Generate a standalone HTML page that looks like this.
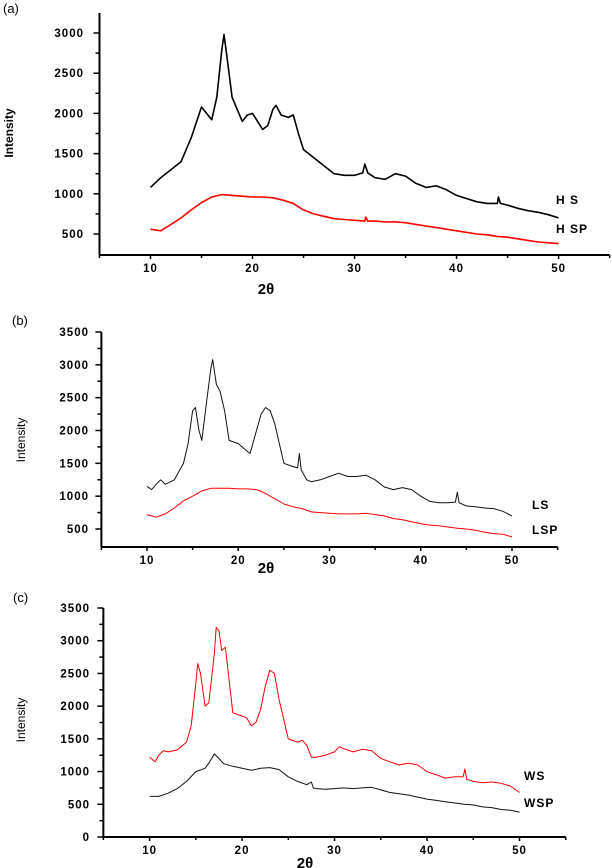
<!DOCTYPE html>
<html><head><meta charset="utf-8"><style>
body{margin:0;background:#fff;width:612px;height:868px;overflow:hidden}
svg{display:block}
text{font-family:"Liberation Sans",Arial,sans-serif}
.tk{font-size:11.5px;font-weight:bold;letter-spacing:1px}
</style></head><body>
<svg id="chart" width="612" height="868" viewBox="0 0 612 868"></svg>
<script>
const xTicks=[10,20,30,40,50];
const yTicksA=[500,1000,1500,2000,2500,3000];
const yTicksB=[500,1000,1500,2000,2500,3000,3500];
const yTicksC=[0,500,1000,1500,2000,2500,3000,3500];
const hsX=[10,11,12,13,14,15,15.5,16,16.5,17,17.2,17.5,18,18.5,19,19.5,20,20.5,21,21.5,22,22.3,22.8,23.5,24,24.5,25,26,27,28,29,30,30.8,31,31.3,32,33,34,35,36,37,38,39,40,41,42,43,44,44.1,44.3,45,46,47,48,49,50];
const hsY=[1080,1200,1300,1400,1700,2080,2000,1920,2200,2800,2980,2700,2200,2050,1900,1980,2000,1900,1800,1850,2050,2100,1980,1950,1980,1750,1550,1450,1350,1250,1230,1230,1260,1370,1260,1200,1180,1250,1220,1130,1080,1100,1050,980,940,900,880,880,960,880,860,820,790,770,740,700];
const hspX=[10,11,12,13,14,15,16,17,18,19,20,21,22,23,24,25,26,27,28,29,30,31,31.1,31.3,32,33,34,35,36,37,38,39,40,41,42,43,44,45,46,47,48,49,50];
const hspY=[560,540,620,700,800,890,960,990,980,970,960,960,950,920,880,800,750,720,690,680,670,660,710,660,660,650,650,640,620,600,580,560,540,520,500,490,470,460,440,420,400,390,380];
const lsX=[10,10.5,11,11.5,12,13,14,14.5,15,15.3,15.7,16,16.5,17,17.2,17.6,18,18.5,19,20,21,21.3,22,22.5,23,23.5,24,24.5,25,26,26.5,26.7,26.9,27.5,28,29,30,31,32,33,34,35,36,37,38,39,40,41,42,43,43.8,44,44.2,45,46,47,48,49,50];
const lsY=[1150,1100,1180,1250,1180,1250,1500,1800,2300,2350,2000,1850,2400,2950,3080,2700,2600,2300,1850,1800,1680,1650,2000,2250,2350,2300,2100,1800,1500,1450,1430,1650,1400,1250,1220,1250,1300,1350,1300,1300,1320,1250,1140,1100,1130,1100,1000,920,900,900,910,1060,900,850,840,820,810,770,700];
const lspX=[10,11,12,13,14,15,16,17,18,19,20,21,22,23,24,25,26,27,28,29,30,31,32,33,34,35,36,37,38,39,40,41,42,43,44,45,46,47,48,49,50];
const lspY=[720,680,730,820,930,1000,1080,1120,1120,1120,1110,1110,1100,1040,960,880,840,810,760,750,740,730,730,730,740,720,700,660,640,610,580,560,550,530,510,500,480,450,430,420,380];
const wsX=[10,10.6,11,11.5,12,13,14,14.5,15,15.2,15.5,16,16.4,17,17.2,17.5,17.8,18.2,18.6,19,20,20.5,21,21.5,22,22.5,23,23.5,24,24.5,25,26,26.5,27,27.5,28,29,30,30.5,31,32,33,34,35,36,37,38,39,40,41,42,43,43.9,44.1,44.3,45,46,47,48,49,50];
const wsY=[1220,1150,1250,1320,1300,1330,1450,1700,2350,2650,2500,2000,2050,2800,3200,3150,2850,2900,2400,1900,1850,1820,1700,1750,1950,2300,2550,2500,2100,1800,1500,1450,1480,1400,1220,1220,1250,1300,1380,1350,1300,1340,1320,1200,1150,1100,1130,1100,1000,950,900,920,920,1040,880,850,830,840,820,780,680];
const wspX=[10,11,12,13,14,15,16,16.5,17,17.5,18,19,20,21,22,23,24,25,26,27,27.5,27.7,28,29,30,31,32,33,34,35,36,37,38,39,40,41,42,43,44,45,46,47,48,49,50];
const wspY=[620,620,670,740,850,1000,1050,1150,1270,1200,1120,1080,1050,1020,1050,1060,1030,920,850,800,840,750,740,730,740,750,740,750,760,720,680,660,640,610,580,560,540,520,500,490,460,450,420,410,380];

const svg=document.getElementById('chart');
const NS='http://www.w3.org/2000/svg';
function mk(tag,attrs,parent){const e=document.createElementNS(NS,tag);for(const k in attrs)e.setAttribute(k,attrs[k]);(parent||svg).appendChild(e);return e;}

function panel(p){
  const g=mk('g',{});
  
  
  const sx=v=>p.x10+(v-10)*(p.x50-p.x10)/40;
  const sy=v=>p.yA+(v-p.vA)*(p.yB-p.yA)/(p.vB-p.vA);
  const xl=sx(5), xr=sx(55);
  const ya=mk('line',{x1:xl,y1:p.yTop,x2:xl,y2:p.yAxis,stroke:'#000','stroke-width':2},g);
  
  const xa=mk('line',{x1:xl,y1:p.yAxis,x2:xr,y2:p.yAxis,stroke:'#000','stroke-width':2},g);
  
  for(let v=5;v<=55;v+=5){const x=sx(v);mk('line',{x1:x,y1:p.yAxis,x2:x,y2:p.yAxis+(v%10===0?4:3),stroke:'#000','stroke-width':1.5},g);}
  xTicks.forEach(v=>{const t=mk('text',{x:sx(v),y:p.yAxis+17,'text-anchor':'middle',class:'tk'},g);t.textContent=v;
    });
  const step=p.yt[1]-p.yt[0];
  for(let v=p.yt[0];v<=p.yt[p.yt.length-1]+1;v+=step/2){const y=sy(v);if(y<p.yTop-1||y>p.yAxis)continue;
    mk('line',{x1:xl-(v%step===0?6:4),y1:y,x2:xl,y2:y,stroke:'#000','stroke-width':1.5},g);}
  p.yt.forEach(v=>{const t=mk('text',{x:p.lblR,y:sy(v)+4,'text-anchor':'end',class:'tk'},g);t.textContent=v;
    });
  p.series.forEach(s=>{
    const pts=s.x.map((v,i)=>sx(v).toFixed(1)+','+sy(s.y[i]).toFixed(1)).join(' ');
    const l=mk('polyline',{points:pts,fill:'none',stroke:s.c,'stroke-width':s.w,'stroke-linejoin':'round'},g);
    
    
    const t=mk('text',{x:p.legX,y:s.ly,'font-size':'12px','font-weight':'bold','letter-spacing':'1px'},g);t.textContent=s.label;
    
  });
  const tt=mk('text',{x:p.tX,y:p.tY,'text-anchor':'middle','font-size':'15px','font-weight':'bold','font-family':p.serif?'Liberation Serif':'Liberation Sans'},g);
  tt.textContent='2θ';
  const it=mk('text',{x:0,y:0,transform:`translate(${p.iX},${p.iY}) rotate(-90)`,'text-anchor':'middle','font-size':'12px','font-weight':p.ib?'bold':'normal'},g);
  it.textContent='Intensity';
  const pl=mk('text',{x:p.pX,y:p.pY,'font-size':'13px','font-family':'DejaVu Sans'},g);
  pl.textContent=p.plabel;
}

panel({name:'panel-a',x10:150.5,x50:558.6,yA:234,vA:500,yB:33,vB:3000,yTop:13,yAxis:255,yt:yTicksA,lblR:84,
  legX:556,tX:266,tY:294,iX:13,iY:133,ib:true,pX:3,pY:13,plabel:'(a)',
  series:[{x:hsX,y:hsY,c:'#000',w:1.6,label:'H S',ly:204},{x:hspX,y:hspY,c:'#f00',w:1.6,label:'H SP',ly:233}]});
panel({name:'panel-b',x10:147,x50:512,yA:529,vA:500,yB:332,vB:3500,yTop:332,yAxis:547,yt:yTicksB,lblR:89,
  legX:532,tX:266,tY:573,iX:25,iY:440,serif:true,pX:12,pY:325,plabel:'(b)',
  series:[{x:lsX,y:lsY,c:'#111',w:1,label:'LS',ly:509},{x:lspX,y:lspY,c:'#f00',w:1,label:'LSP',ly:534}]});
panel({name:'panel-c',x10:149.6,x50:519.5,yA:837,vA:0,yB:608,vB:3500,yTop:608,yAxis:837,yt:yTicksC,lblR:90,
  legX:524,tX:305,tY:868,iX:25,iY:720,pX:13,pY:602,plabel:'(c)',
  series:[{x:wsX,y:wsY,c:'#f00',w:1,label:'WS',ly:780},{x:wspX,y:wspY,c:'#111',w:1,label:'WSP',ly:807}]});
</script>
</body></html>
